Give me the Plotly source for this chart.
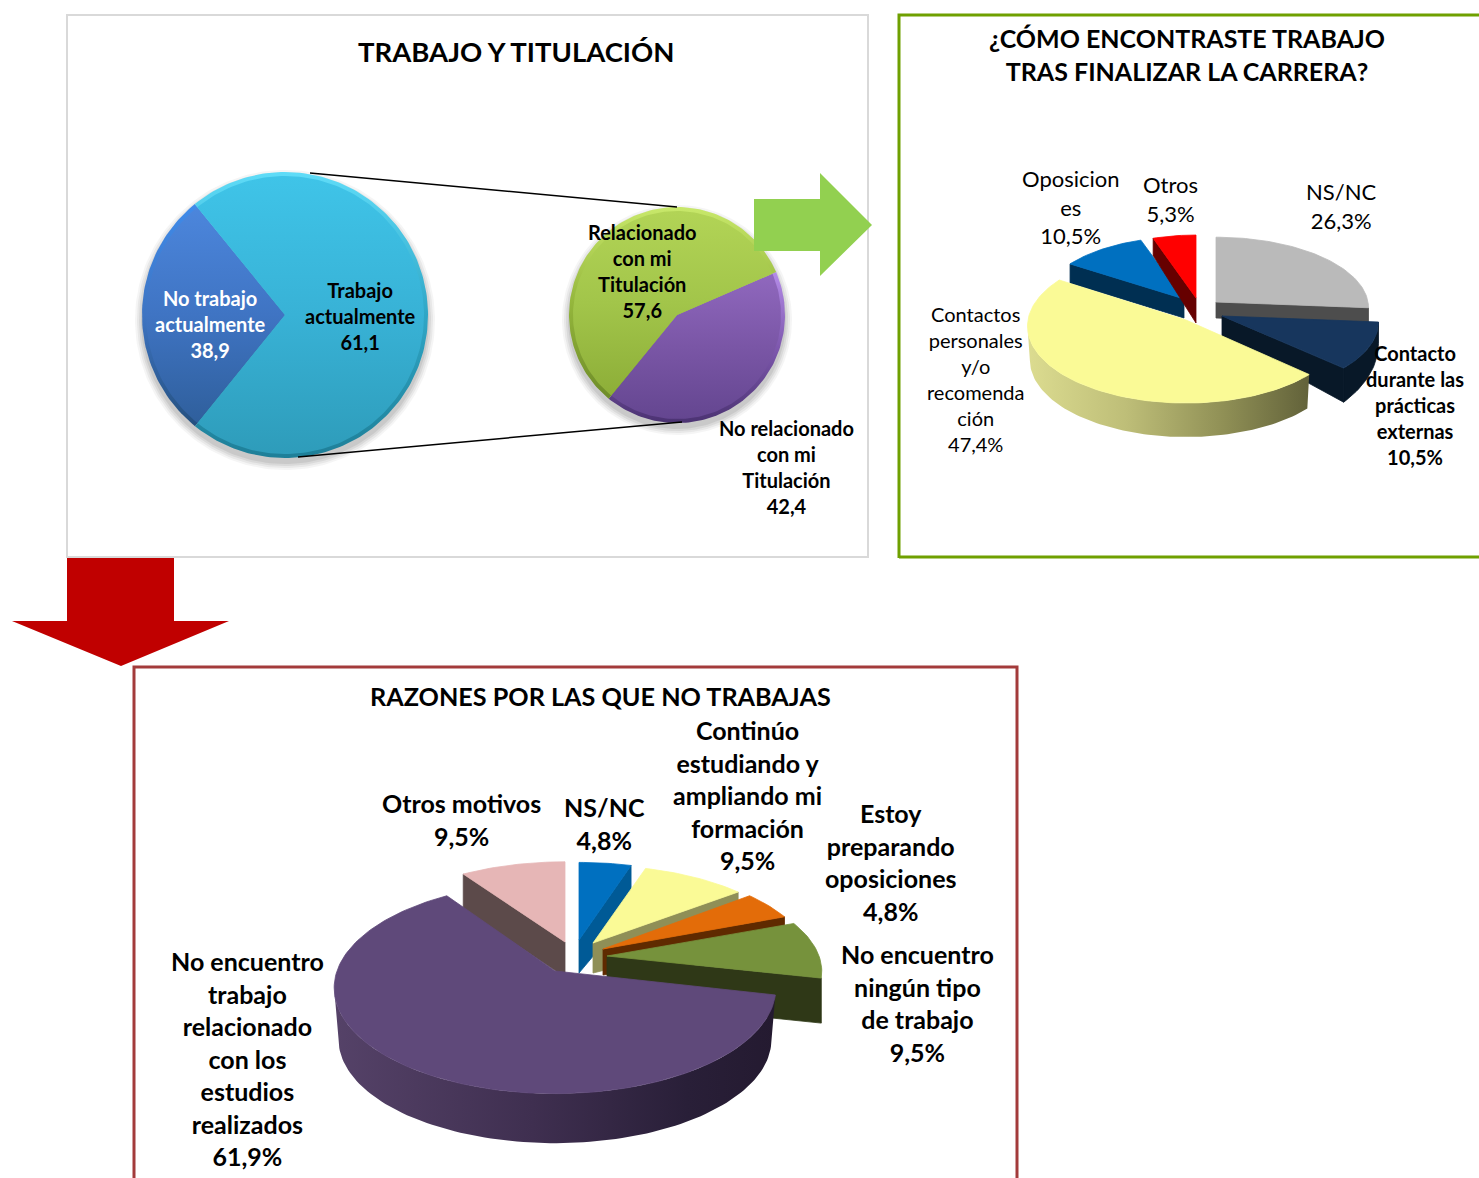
import math
import plotly.graph_objects as go

# ---------- data ----------
titles = ["TRABAJO Y TITULACIÓN",
          "¿CÓMO ENCONTRASTE TRABAJO<br>TRAS FINALIZAR LA CARRERA?",
          "RAZONES POR LAS QUE NO TRABAJAS"]

main_labels = ["No trabajo<br>actualmente<br>38,9", "Trabajo<br>actualmente<br>61,1"]
main_drawn_share = [28.3, 71.7]   # angle actually drawn in the picture (differs from the printed label)

sub_labels = ["No relacionado<br>con mi<br>Titulación<br>42,4", "Relacionado<br>con mi<br>Titulación<br>57,6"]
sub_values = [42.4, 57.6]

how_labels = ["NS/NC<br>26,3%", "Contacto<br>durante las<br>prácticas<br>externas<br>10,5%",
              "Contactos<br>personales<br>y/o<br>recomenda<br>ción<br>47,4%",
              "Oposicion<br>es<br>10,5%", "Otros<br>5,3%"]
how_values = [26.3, 10.5, 47.4, 10.5, 5.3]

why_labels = ["NS/NC<br>4,8%", "Continúo<br>estudiando y<br>ampliando mi<br>formación<br>9,5%",
              "Estoy<br>preparando<br>oposiciones<br>4,8%",
              "No encuentro<br>ningún tipo<br>de trabajo<br>9,5%",
              "No encuentro<br>trabajo<br>relacionado<br>con los<br>estudios<br>realizados<br>61,9%",
              "Otros motivos<br>9,5%"]
why_values = [4.8, 9.5, 4.8, 9.5, 61.9, 9.5]

# ---------- drawing helpers ----------
FONT = "Lato"
W, H = 1479, 1178
fig = go.Figure()


def angles(values, start=0.0):
    total = sum(values)
    out, cur = [], start
    for v in values:
        nxt = cur + v / total * 360
        out.append((cur, nxt))
        cur = nxt
    return out


def proj(th, a, b, k):
    t = math.radians(th)
    u, v = math.sin(t), math.cos(t)
    w = 1 + k * v
    return a * u / w, -b * v / w


def arc(t0, t1, a, b, k):
    n = max(2, int(abs(t1 - t0) / 1.5) + 1)
    return [proj(t0 + (t1 - t0) * i / (n - 1), a, b, k) for i in range(n)]


def poly(xs, ys, color=None, grad=None, line=None, name=""):
    kw = dict(x=xs, y=ys, mode="lines", fill="toself", showlegend=False,
              name=name, hoverinfo="skip" if not name else "name")
    kw["line"] = dict(width=0.8 if line else 0, color=line or "rgba(0,0,0,0)")
    if grad:
        kw["fillgradient"] = grad
        kw["fillcolor"] = "rgba(0,0,0,0)"
    else:
        kw["fillcolor"] = color
    fig.add_trace(go.Scatter(**kw))


def hgrad(stops):
    return dict(type="horizontal", colorscale=stops)


def vgrad(stops):
    # the y axis runs downwards, so the stops are listed top to bottom and flipped here
    return dict(type="vertical", colorscale=[[1 - p, c] for p, c in reversed(stops)])


def solid3d(values, s, start=0.0, names=None):
    """Draw one exploded slice set; slices hold apex, scale and wall styles."""
    spans = angles(values, start)
    k = s["k"]
    silhouette = 360 - math.degrees(math.acos(-k))   # angle of the outline's widest point
    for idx in s["order"]:
        t0, t1 = spans[idx]
        c = s["slices"][idx]
        ax, ay = c["apex"]
        a, b = c["a"], c["b"]
        dz, sx, sy = c["dz"], c.get("sx", 1.0), c.get("sy", 1.0)

        def top(p):
            return ax + p[0], ay + p[1]

        def bot(p):
            return ax + p[0] * sx, ay + dz + p[1] * sy

        for face in c.get("faces", []):
            th = t0 if face == "start" else t1
            e = proj(th, a, b, k)
            pts = [top((0, 0)), top(e), bot(e), bot((0, 0))]
            poly([p[0] for p in pts] + [pts[0][0]], [p[1] for p in pts] + [pts[0][1]],
                 color=c["side"], line=c["side"])
        if c.get("wall"):
            w1 = min(t1, silhouette)
            ar = arc(t0, w1, a, b, k)
            pts = [top(p) for p in ar] + [bot(p) for p in reversed(ar)]
            xs = [p[0] for p in pts] + [pts[0][0]]
            ys = [p[1] for p in pts] + [pts[0][1]]
            if "wallgrad" in c:
                poly(xs, ys, grad=hgrad(c["wallgrad"]))
            else:
                poly(xs, ys, color=c["side"], line=c["side"])
        ar = arc(t0, t1, a, b, k)
        pts = [top((0, 0))] + [top(p) for p in ar] + [top((0, 0))]
        poly([p[0] for p in pts], [p[1] for p in pts], color=c["color"], line=c["color"],
             name=(names[idx].replace("<br>", " ") if names else ""))


def flat_pie(values, cx, cy, r, rotation, styles, names):
    # soft drop shadow
    for grow, alpha in ((7, .06), (5, .08), (3, .10), (1, .12)):
        pts = arc(0, 360, r + grow, r + grow, 0)
        poly([cx + p[0] for p in pts], [cy + 5 + p[1] for p in pts], color=f"rgba(90,90,90,{alpha})")
    for (t0, t1), st, nm in zip(angles(values, rotation), styles, names):
        for rad, stops in ((r, st["rim"]), (r - 4, st["body"])):
            pts = [(0, 0)] + arc(t0, t1, rad, rad, 0) + [(0, 0)]
            poly([cx + p[0] for p in pts], [cy + p[1] for p in pts], grad=vgrad(stops),
                 name=nm.replace("<br>", " "))


# ---------- frames ----------
shapes = [
    dict(type="rect", x0=67, y0=15, x1=868, y1=557, line=dict(color="#D9D9D9", width=2)),
    dict(type="path", path="M 899 558 L 899 15 L 1479 15 M 899 557 L 1479 557", line=dict(color="#6FA000", width=3)),
    dict(type="path", path="M 134 1178 L 134 667 L 1017 667 L 1017 1178", line=dict(color="#A33B3B", width=3)),
]
fig.update_layout(shapes=shapes)

# ---------- top-left pie of pie ----------
flat_pie(main_drawn_share, 285, 315, 143, 219, [
    dict(rim=[[0, "#3F8BEA"], [.5, "#3E74C2"], [1, "#24507F"]],
         body=[[0, "#4C86DC"], [.5, "#3F74C3"], [1, "#2F5F9C"]]),
    dict(rim=[[0, "#5FDCF8"], [.5, "#2FA6C6"], [1, "#1E7F98"]],
         body=[[0, "#3FC4E8"], [.5, "#38B2D6"], [1, "#2E9CBA"]]),
], main_labels)
flat_pie(sub_values, 677, 315, 108, 66.6, [
    dict(rim=[[0, "#B48CE8"], [.5, "#7E58AE"], [1, "#4B3272"]],
         body=[[0, "#9068BE"], [.5, "#7A56A6"], [1, "#644690"]]),
    dict(rim=[[0, "#C8E86A"], [.5, "#94B63C"], [1, "#6E8C28"]],
         body=[[0, "#B2D456"], [.5, "#A2C54A"], [1, "#8DAE38"]]),
], sub_labels)

# ---------- top-right 3D pie ----------
solid3d(how_values, dict(k=.08, order=[0, 3, 4, 1, 2], slices=[
    dict(apex=(1216, 302), a=152, b=70, dz=16, sy=.9, color="#BABABA", side="#4D4D4D", faces=["end"]),
    dict(apex=(1222, 316), a=156, b=73, dz=20, sy=1.27, color="#17365D", side="#081828", faces=["end"], wall=True),
    dict(apex=(1186, 320), a=158, b=76.4, dz=34, sx=.985, color="#FAFA96", side="#8F8F57", wall=True,
         wallgrad=[[0, "#DCDC90"], [.35, "#BEBE78"], [.7, "#8F8F55"], [1, "#62623A"]]),
    dict(apex=(1184, 299), a=142, b=67, dz=19, color="#0070C0", side="#002F52", faces=["start"]),
    dict(apex=(1196, 298), a=141, b=68, dz=25, sy=1.13, color="#FF0000", side="#660000", faces=["start"]),
]), names=how_labels)

# ---------- bottom 3D pie ----------
solid3d(why_values, dict(k=.16, order=[5, 0, 1, 2, 3, 4], slices=[
    dict(apex=(579, 940), a=202, b=90, dz=33, sy=.83, color="#0070C0", side="#005A96", faces=["end"]),
    dict(apex=(593, 943), a=204, b=90, dz=30, sy=.7, color="#FAFA96", side="#8F8F57", faces=["end"]),
    dict(apex=(603, 949), a=206, b=94, dz=26, sy=.65, color="#E36C09", side="#5F2A00", faces=["end"]),
    dict(apex=(607, 956), a=212, b=95, dz=45, color="#76923C", side="#2F3817", faces=["end"]),
    dict(apex=(555, 971), a=218, b=103, dz=52, sx=.98, sy=.98, color="#5F497A", side="#3F3052", wall=True,
         wallgrad=[[0, "#554268"], [.45, "#3F2F50"], [.8, "#291F38"], [1, "#241A30"]]),
    dict(apex=(565, 942), a=205, b=93, dz=35, color="#E6B6B6", side="#5C4A4A", faces=["start"]),
]), names=why_labels)

# ---------- connector lines and arrows ----------
extra = [
    dict(type="line", x0=310, y0=173, x1=677, y1=207, line=dict(color="#000000", width=1.5)),
    dict(type="line", x0=298, y0=457, x1=682, y1=422, line=dict(color="#000000", width=1.5)),
    dict(type="path", path="M 754 199 L 820 199 L 820 173 L 872 225 L 820 276 L 820 251 L 754 251 Z",
         fillcolor="#92D050", line=dict(width=0)),
    dict(type="path", path="M 67 558 L 174 558 L 174 621 L 229 621 L 121 666 L 12 621 L 67 621 Z",
         fillcolor="#C00000", line=dict(width=0)),
]
fig.update_layout(shapes=shapes + extra)

# ---------- texts ----------
text_items = [
    (titles[0], 516, 51, 27.5, True, "#000000"),
    (titles[1], 1187, 54, 25, True, "#000000"),
    (titles[2], 600, 696, 25.2, True, "#000000"),
    (main_labels[0], 210, 324, 20, True, "#FFFFFF"),
    (main_labels[1], 360, 316, 20, True, "#000000"),
    (sub_labels[1], 642, 271, 20, True, "#000000"),
    (sub_labels[0], 786, 467, 20, True, "#000000"),
    (how_labels[0], 1341, 206, 22, False, "#000000"),
    (how_labels[1], 1415, 405, 20, True, "#000000"),
    (how_labels[2], 975, 379, 20, False, "#000000"),
    (how_labels[3], 1071, 207, 22, False, "#000000"),
    (how_labels[4], 1170, 199, 22, False, "#000000"),
    (why_labels[0], 604, 823, 25, True, "#000000"),
    (why_labels[1], 747, 795, 25, True, "#000000"),
    (why_labels[2], 890, 862, 25, True, "#000000"),
    (why_labels[3], 917, 1003, 25, True, "#000000"),
    (why_labels[4], 247, 1058, 25, True, "#000000"),
    (why_labels[5], 461, 819, 25, True, "#000000"),
]
for txt, x, y, size, bold, col in text_items:
    fig.add_annotation(x=x, y=y, xref="x", yref="y", text=f"<b>{txt}</b>" if bold else txt,
                       showarrow=False, align="center", xanchor="center", yanchor="middle",
                       font=dict(family=FONT, size=size, color=col))

fig.update_layout(
    width=W, height=H, margin=dict(l=0, r=0, t=0, b=0),
    paper_bgcolor="#FFFFFF", plot_bgcolor="#FFFFFF", showlegend=False,
    xaxis=dict(range=[0, W], visible=False, fixedrange=True),
    yaxis=dict(range=[H, 0], visible=False, fixedrange=True),
)
fig.write_html("out.html", config=dict(displayModeBar=False),
               post_script="document.body.style.margin='0';document.documentElement.style.overflow='hidden';")
